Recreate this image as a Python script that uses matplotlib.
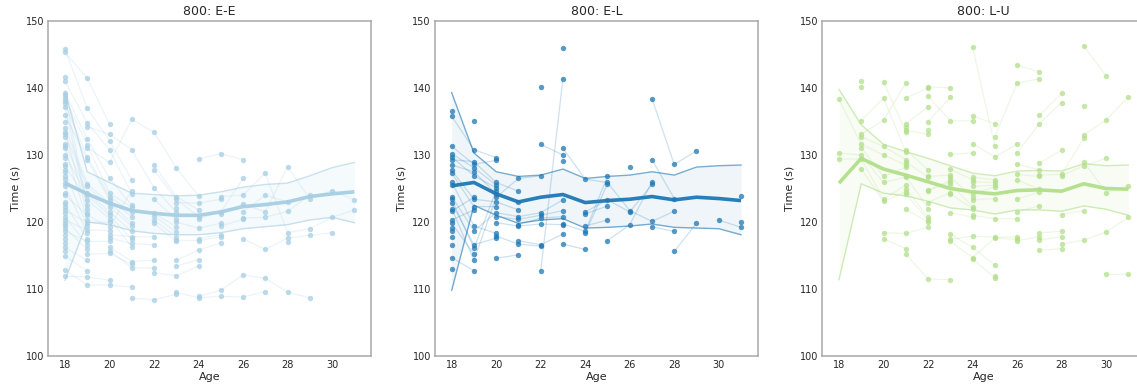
import matplotlib
matplotlib.use("Agg")
import matplotlib.pyplot as plt
import numpy as np

# ---------------- data ----------------
ages = list(range(18, 32))
xticks = [18, 20, 22, 24, 26, 28, 30]
yticks = [100, 110, 120, 130, 140, 150]
titles = ["800: E-E", "800: E-L", "800: L-U"]
colors = ["#a6cee3", "#1f78b4", "#b2df8a"]

# model mean and band per age (18..31)
ee_mean = [125.8, 124.2, 122.8, 121.7, 121.3, 121.0, 121.0, 121.5, 122.3, 122.6, 123.0, 123.8, 124.2, 124.5]
ee_upper = [139.5, 127.5, 125.9, 124.3, 124.1, 123.9, 124.0, 124.5, 125.2, 125.6, 125.8, 126.9, 128.1, 128.9]
ee_lower = [111.3, 120.0, 119.6, 118.7, 118.3, 118.1, 118.1, 118.4, 119.0, 119.3, 119.6, 120.3, 120.7, 119.9]

el_mean = [125.4, 125.9, 124.2, 123.0, 123.7, 124.1, 122.9, 123.2, 123.4, 123.8, 123.3, 123.7, 123.5, 123.2]
el_upper = [139.3, 130.3, 127.5, 126.8, 127.0, 127.9, 126.5, 126.8, 127.0, 127.5, 127.0, 128.2, 128.4, 128.5]
el_lower = [109.8, 122.5, 121.0, 119.8, 120.3, 120.5, 119.1, 119.2, 119.4, 119.7, 119.2, 119.1, 119.0, 118.1]

lu_mean = [125.8, 129.5, 127.9, 127.0, 126.0, 125.0, 124.5, 124.2, 124.7, 124.8, 124.6, 125.7, 125.0, 124.9]
lu_upper = [139.8, 134.5, 131.6, 130.5, 129.5, 128.4, 127.3, 126.9, 127.6, 127.7, 127.6, 128.7, 128.4, 128.5]
lu_lower = [111.4, 125.7, 124.3, 123.9, 123.1, 122.1, 121.8, 121.2, 121.8, 121.8, 121.6, 122.4, 121.9, 121.0]

band_alpha = [0.10, 0.07, 0.09]

# athlete trajectories: (first age, times at consecutive ages)
ee_tracks = [
    (24, [129.4, 130.2, 129.3]),
    (25, [123.8, 124.0, 127.3, 118.4, 119.0, 120.7, 121.8]),
    (25, [121.2, 122.7, 121.5, 128.2, 123.5, 124.7, 123.3]),
    (24, [108.9, 109.8, 112.1, 111.6, 109.5, 108.7]),
    (23, [109.5, 108.7, 108.9, 108.8, 109.6]),
    (21, [108.6, 108.4, 109.2]),
    (26, [120.6, 120.7, 121.6, 124.0]),
    (26, [117.5, 115.9, 117.6, 118.0, 118.4]),
    (24, [120.5, 121.5, 126.5]),
    (25, [119.4, 120.4]),
    (28, [117.0]),
    (23, [122.9, 122.8, 123.4]),
    (23, [120.0, 119.1, 119.8]),
    (24, [117.5, 118.1]),
    (23, [117.3, 117.2, 117.8]),
    (23, [114.3, 115.8, 116.9]),
    (23, [113.4, 114.4]),
    (22, [112.4, 112.0, 113.4]),
    (19, [131.1, 128.9, 135.3, 133.4, 128.1, 123.9]),
    (22, [128.5, 123.8, 121.8]),
    (22, [127.7, 123.4, 120.8]),
    (19, [134.2, 133.1, 130.8, 125.1, 121.5]),
    (22, [123.4, 120.4]),
    (22, [121.3, 119.3]),
    (22, [120.9, 118.5]),
    (22, [120.3, 117.8]),
    (22, [119.8, 117.1]),
    (20, [118.1, 117.8, 117.8]),
    (20, [117.6, 116.8, 116.6]),
    (20, [116.3, 114.1, 114.3]),
    (20, [115.7, 113.2, 113.1]),
    (19, [115.2, 115.3, 113.7]),
    (23, [122.1]),
    (26, [121.5, 124.0, 123.0]),
    (18, [145.8, 137.0, 132.1, 126.3]),
    (18, [141.0, 134.8, 130.8, 124.2]),
    (18, [139.3, 132.4, 126.5, 122.5]),
    (18, [138.5, 131.5, 124.3, 122.2]),
    (18, [137.7, 129.7, 123.8, 121.5]),
    (18, [136.0, 129.3, 123.3, 120.8]),
    (18, [134.1, 125.7, 122.8, 119.9]),
    (18, [133.1, 125.3, 122.3, 119.4]),
    (18, [131.6, 124.4, 121.5, 118.6]),
    (18, [130.0, 124.0, 121.0, 117.4]),
    (18, [128.4, 123.3, 120.5, 116.3]),
    (18, [124.0, 121.0, 119.3, 124.7]),
    (18, [112.8, 110.6, 110.6, 110.3]),
    (18, [111.9, 111.8, 111.3]),
    (18, [145.3, 141.5, 134.6]),
    (18, [121.8, 119.9, 120.0]),
    (18, [120.3, 118.8, 118.7]),
    (18, [118.6, 117.1, 117.1]),
    (18, [138.9, 122.5]),
    (18, [137.2, 122.0]),
    (18, [133.5, 121.4]),
    (18, [131.0, 120.3]),
    (18, [127.4, 119.4]),
    (18, [125.3, 118.4]),
    (18, [122.7, 117.5]),
    (18, [120.8, 116.6]),
    (18, [119.1, 115.9]),
    (18, [116.2, 114.3]),
    (18, [114.9, 112.7]),
]
ee_single_18 = [141.7, 138.1, 135.0, 132.7, 131.3, 129.6, 128.7, 127.8, 126.9, 126.4,
                125.8, 124.4, 123.0, 122.3, 121.3, 119.9, 119.5, 118.1, 117.4, 116.8, 115.6]

el_tracks = [
    (22, [112.7, 141.4]),
    (22, [140.2]),
    (22, [131.6, 130.0]),
    (23, [131.0, 126.4, 125.9, 121.7, 120.1, 121.6]),
    (24, [118.3, 125.7]),
    (25, [117.2, 119.6, 126.0]),
    (27, [138.4, 128.6, 130.6]),
    (27, [129.3, 123.5]),
    (27, [119.3, 118.6]),
    (28, [115.6, 119.8]),
    (30, [120.3, 119.2]),
    (24, [121.5, 123.3, 121.5, 125.6]),
    (24, [121.2, 122.4]),
    (24, [119.4, 120.3]),
    (23, [119.7, 118.6, 126.8]),
    (23, [116.7, 115.9]),
    (26, [128.2]),
    (31, [123.9]),
    (31, [120.0]),
    (23, [146.0]),
    (23, [129.1]),
    (18, [122.0, 114.3, 123.7, 126.5, 126.9]),
    (18, [123.8, 118.7, 121.4, 120.8, 121.4, 123.3]),
    (20, [120.8, 120.4, 121.0, 121.7]),
    (21, [119.6, 120.6, 120.8]),
    (20, [119.9, 119.4, 119.7, 119.6]),
    (21, [117.2, 116.6, 118.2]),
    (20, [117.9, 116.7, 116.4]),
    (20, [114.6, 115.1]),
    (18, [129.3, 129.0, 125.9, 124.6]),
    (18, [128.5, 127.5, 124.2, 123.0]),
    (18, [127.7, 123.4, 123.0, 121.8]),
    (18, [135.8, 130.8, 129.6]),
    (18, [131.3, 128.6, 129.2]),
    (18, [130.2, 128.1, 125.5]),
    (18, [129.7, 126.9, 125.1]),
    (18, [123.4, 116.1, 124.7]),
    (18, [127.3, 122.3, 122.3]),
    (18, [126.0, 119.4, 118.3]),
    (18, [122.8, 116.6, 117.6]),
    (18, [121.6, 123.7]),
    (18, [120.3, 121.8]),
    (18, [119.8, 115.2]),
    (18, [114.7, 112.7]),
    (19, [135.1]),
]
el_single_18 = [136.6, 125.5, 119.1, 118.6, 117.8, 116.6, 113.0]

lu_tracks = [
    (29, [146.3, 141.8]),
    (29, [133.0, 135.2, 138.7]),
    (30, [112.3, 112.3]),
    (28, [116.7, 117.3, 118.5, 120.7]),
    (28, [126.9, 128.4, 129.5]),
    (29, [129.0, 124.4, 125.4]),
    (28, [121.1, 121.7]),
    (26, [130.3, 134.7, 137.8]),
    (27, [135.9, 139.2]),
    (27, [128.8, 130.7]),
    (27, [127.0, 127.1, 132.5]),
    (27, [117.3, 117.8]),
    (27, [115.8, 116.0]),
    (27, [118.4, 118.6]),
    (26, [117.2, 117.8]),
    (24, [146.1, 131.4]),
    (25, [132.7, 140.7, 141.4]),
    (24, [135.8, 134.7]),
    (24, [131.7, 129.7, 131.6]),
    (26, [128.6, 127.8]),
    (26, [127.1, 126.8]),
    (26, [126.3, 124.9]),
    (26, [123.4, 124.5]),
    (26, [121.5, 122.4]),
    (24, [121.0, 120.5, 120.5]),
    (26, [143.4, 142.4]),
    (23, [117.4, 117.9, 117.7, 117.8]),
    (23, [117.1, 114.7, 117.6, 117.4]),
    (29, [137.3]),
    (24, [126.7, 126.3]),
    (24, [126.0, 125.9]),
    (24, [125.3, 125.5]),
    (24, [124.3, 125.2]),
    (24, [123.3, 123.5]),
    (24, [114.5, 111.7]),
    (23, [118.2, 116.2, 113.6]),
    (25, [111.9]),
    (22, [140.2, 140.0]),
    (22, [138.8, 135.1, 135.1]),
    (22, [135.0, 138.6]),
    (22, [133.8]),
    (23, [130.1, 130.3]),
    (23, [127.9, 126.3]),
    (23, [126.7, 123.8]),
    (23, [125.7, 122.3]),
    (23, [124.2, 122.0]),
    (23, [121.4, 120.7]),
    (21, [115.2, 111.5, 111.4]),
    (22, [126.8, 127.0]),
    (22, [124.8, 126.2]),
    (22, [124.7, 125.9]),
    (22, [122.9, 124.4]),
    (21, [138.5, 140.0]),
    (21, [134.6, 137.2]),
    (21, [133.7, 133.1]),
    (21, [130.8, 127.8]),
    (21, [129.0, 126.7]),
    (21, [126.9, 122.0]),
    (21, [125.0, 120.7]),
    (21, [124.2, 120.3]),
    (21, [121.9, 120.0]),
    (20, [118.4, 118.3, 119.2]),
    (21, [134.2]),
    (19, [135.1, 138.5, 130.5]),
    (19, [133.1, 135.2, 140.7]),
    (19, [132.7, 131.3, 129.3]),
    (18, [138.3, 131.6, 130.0, 128.5]),
    (19, [131.1, 126.8, 128.2]),
    (18, [130.3, 130.0, 125.9, 126.7]),
    (18, [129.4, 129.4, 123.4, 125.5]),
    (19, [127.9, 123.1, 124.5]),
    (19, [141.1]),
    (19, [140.1]),
    (20, [140.9, 133.5]),
    (20, [117.5, 116.0]),
]
lu_single_18 = []

panels = [
    (ee_tracks, ee_single_18, ee_mean, ee_upper, ee_lower),
    (el_tracks, el_single_18, el_mean, el_upper, el_lower),
    (lu_tracks, lu_single_18, lu_mean, lu_upper, lu_lower),
]

# ---------------- figure ----------------
W, H = 1137, 389
fig = plt.figure(figsize=(W / 100, H / 100), dpi=100)
lefts = [48.3, 435.0, 822.3]
ax_w = 322.7
ax_top, ax_bot = 21.0, 356.0
text_col = "#262626"
spine_col = "#a8a8a8"

for i, (tracks, singles, mean, upper, lower) in enumerate(panels):
    ax = fig.add_axes([lefts[i] / W, (H - ax_bot) / H, ax_w / W, (ax_bot - ax_top) / H])
    c = colors[i]
    # band
    ax.fill_between(ages, lower, upper, color=c, alpha=band_alpha[i], lw=0, zorder=1)
    ax.plot(ages, upper, color=c, lw=1.0, alpha=0.6, zorder=2)
    ax.plot(ages, lower, color=c, lw=1.0, alpha=0.6, zorder=2)
    # trajectories + points
    px, py = [], []
    for start, vals in tracks:
        xs = list(range(start, start + len(vals)))
        if len(vals) > 1:
            ax.plot(xs, vals, color=c, lw=0.9, alpha=0.22, zorder=2)
        px += xs
        py += vals
    px += [18] * len(singles)
    py += singles
    ax.scatter(px, py, s=15, color=c, alpha=0.75, lw=0, zorder=3)
    # mean
    ax.plot(ages, mean, color=c, lw=2.6, alpha=0.95, zorder=4, solid_capstyle="butt")

    ax.set_xlim(17.25, 31.75)
    ax.set_ylim(100, 150)
    ax.set_xticks(xticks)
    ax.set_yticks(yticks)
    ax.tick_params(length=0, pad=3, labelsize=7.0, colors=text_col)
    ax.set_xlabel("Age", fontsize=8.0, color=text_col, labelpad=1)
    ax.set_ylabel("Time (s)", fontsize=8.0, color=text_col, labelpad=4)
    ax.set_title(titles[i], fontsize=9.0, color=text_col, pad=4)
    for s in ax.spines.values():
        s.set_color(spine_col)
        s.set_linewidth(1.1)

fig.savefig("out.png", dpi=100)
